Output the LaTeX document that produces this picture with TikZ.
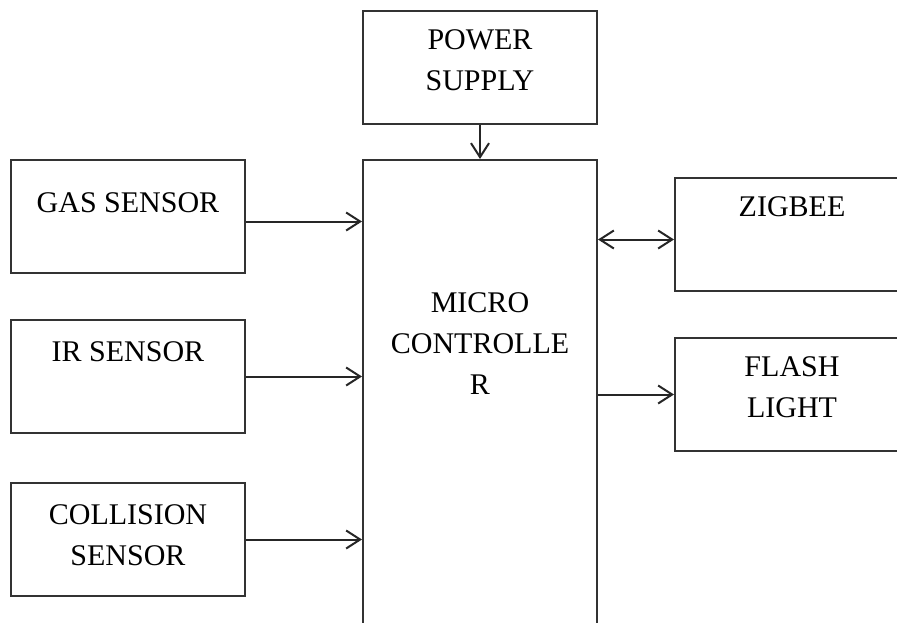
\documentclass[tikz,border=0pt]{standalone}
\usepackage{fontspec}
\setmainfont{Liberation Serif}
\usetikzlibrary{arrows.meta, positioning}

\begin{document}
\begin{tikzpicture}[
    x=1pt, y=-1pt,
    % Styles for blocks, captions and arrows
    block/.style={draw=black!80, rectangle, line width=2pt, minimum width=234pt, minimum height=113pt, inner sep=0pt},
    caption/.style={anchor=north, align=center, inner sep=0pt, font=\fontsize{30}{41}\selectfont, yshift=-#1},
    caption/.default=19pt,
    connector/.style={-{Straight Barb[length=14pt, width=18pt]}, line width=2pt, draw=black!85},
    node distance=34pt
]
    % --- FRAME ---
    \useasboundingbox (0,0) rectangle (897,622);
    \clip (0,0) rectangle (897,622);

    % --- NODES ---
    % Microcontroller in the middle, its foot runs off the page
    \node [block, minimum height=540pt, label={[caption=133pt]north:{MICRO\\CONTROLLE\\R}}] (micro) at (480,430) {};
    \node [block, above=of micro, label={[caption]north:{POWER\\SUPPLY}}] (power) {};

    % Sensors on the left
    \node [block, anchor=north east, label={[caption=33pt]north:{GAS SENSOR}}] (gas) at ([xshift=-116pt]micro.north west) {};
    \node [block, below=45pt of gas, label={[caption=22pt]north:{IR SENSOR}}] (ir) {};
    \node [block, below=48pt of ir, label={[caption=22pt]north:{COLLISION\\SENSOR}}] (coll) {};

    % Outputs on the right
    \node [block, anchor=north west, label={[caption]north:{ZIGBEE}}] (zigbee) at ([xshift=76pt, yshift=-18pt]micro.north east) {};
    \node [block, below=45pt of zigbee, label={[caption]north:{FLASH\\LIGHT}}] (flash) {};

    % --- CONNECTIONS ---
    \draw [connector] (power) -- (micro);
    \draw [connector] ([yshift=-5pt]gas.east) -- ([yshift=-5pt]gas.east -| micro.west);
    \draw [connector] (ir) -- (ir -| micro.west);
    \draw [connector] (coll) -- (coll -| micro.west);
    \draw [connector, {Straight Barb[length=14pt, width=18pt]}-{Straight Barb[length=14pt, width=18pt]}] ([yshift=-5pt]micro.east |- zigbee) -- ([yshift=-5pt]zigbee.west);
    \draw [connector] (micro.east |- flash) -- (flash);

\end{tikzpicture}
\end{document}
